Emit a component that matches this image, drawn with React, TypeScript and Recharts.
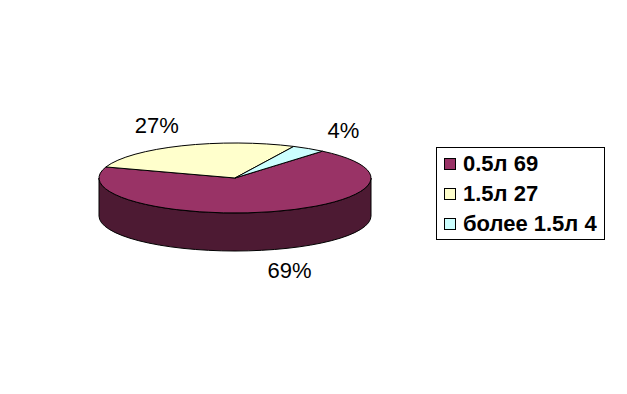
import { PieChart, Pie, Cell, Legend } from 'recharts'

const categories = ['0.5л', '1.5л', 'более 1.5л']
const values = [69, 27, 4]
const colors = ['#993366', '#FFFFCC', '#CCFFFF']

const data = categories.map((name, i) => ({ name, value: values[i] }))

// flattening of the pie top and the thickness of the side wall
const SQUASH = 35 / 136
const DEPTH = 38

const darken = (hex: string, k = 0.5) => {
  const n = parseInt(hex.slice(1), 16)
  const c = [(n >> 16) & 255, (n >> 8) & 255, n & 255].map((v) => Math.round(v * k))
  return `rgb(${c.join(',')})`
}

function Slice3D(props: any) {
  const { cx, cy, outerRadius, startAngle, endAngle, fill } = props
  const rx = outerRadius
  const ry = outerRadius * SQUASH
  const p = (a: number, dy = 0) => {
    const r = (a * Math.PI) / 180
    return `${cx + rx * Math.cos(r)},${cy - ry * Math.sin(r) + dy}`
  }
  const large = Math.abs(startAngle - endAngle) > 180 ? 1 : 0
  const sweep = startAngle > endAngle ? 1 : 0
  const top = `M${cx},${cy} L${p(startAngle)} A${rx},${ry} 0 ${large} ${sweep} ${p(endAngle)} Z`

  // front-facing wall pieces (angles where sin < 0)
  const lo = Math.min(startAngle, endAngle)
  const hi = Math.max(startAngle, endAngle)
  const walls: string[] = []
  for (let k = Math.floor(lo / 360) - 1; k <= Math.ceil(hi / 360) + 1; k++) {
    const a = Math.max(lo, -180 + 360 * k)
    const b = Math.min(hi, 360 * k)
    if (b > a) {
      walls.push(
        `M${p(a)} A${rx},${ry} 0 0 0 ${p(b)} L${p(b, DEPTH)} A${rx},${ry} 0 0 1 ${p(a, DEPTH)} Z`
      )
    }
  }
  return (
    <g>
      {walls.map((d, i) => (
        <path key={i} d={d} fill={darken(fill)} stroke="#000" strokeWidth={1} />
      ))}
      <path d={top} fill={fill} stroke="#000" strokeWidth={1} />
    </g>
  )
}

const renderLabel = (props: any) => {
  const { cx, cy, midAngle, percent } = props
  const r = (midAngle * Math.PI) / 180
  const s = Math.sin(r)
  const x = cx + 200 * Math.cos(r)
  const y = cy - 57 * s + (s < 0 ? DEPTH : 0)
  return (
    <text
      x={x}
      y={y}
      textAnchor="middle"
      dominantBaseline="central"
      fontFamily="'Liberation Sans', Arial, sans-serif"
      fontSize={22}
      fill="#000"
    >
      {`${Math.round(percent * 100)}%`}
    </text>
  )
}

const renderLegend = (props: any) => {
  const { payload } = props
  return (
    <div
      style={{
        border: '1px solid #000',
        width: 167,
        height: 90,
        paddingTop: 1,
        boxSizing: 'content-box',
        fontFamily: "'Liberation Sans', Arial, sans-serif",
        fontWeight: 'bold',
        fontSize: 22,
        background: '#fff',
      }}
    >
      {(payload || []).map((entry: any, i: number) => (
        <div key={i} style={{ height: 30, display: 'flex', alignItems: 'center' }}>
          <span
            style={{
              display: 'inline-block',
              width: 10,
              height: 10,
              marginLeft: 7,
              marginRight: 7,
              border: '1px solid #000',
              background: colors[i],
            }}
          />
          <span style={{ whiteSpace: 'nowrap' }}>{`${categories[i]} ${values[i]}`}</span>
        </div>
      ))}
    </div>
  )
}

export default function App() {
  return (
    <div style={{ position: 'absolute', left: 0, top: 0, width: 627, height: 394, background: '#fff' }}>
      <PieChart width={627} height={394} margin={{ top: 0, right: 0, bottom: 0, left: 0 }}>
        <Pie
          data={data}
          dataKey="value"
          nameKey="name"
          cx={235}
          cy={178}
          outerRadius={136}
          startAngle={50}
          endAngle={-310}
          shape={Slice3D}
          label={renderLabel}
          labelLine={false}
          isAnimationActive={false}
        >
          {data.map((d, i) => (
            <Cell key={d.name} fill={colors[i]} />
          ))}
        </Pie>
        <Legend
          content={renderLegend}
          wrapperStyle={{ position: 'absolute', left: 436, top: 147, width: 169, height: 92 }}
        />
      </PieChart>
    </div>
  )
}
